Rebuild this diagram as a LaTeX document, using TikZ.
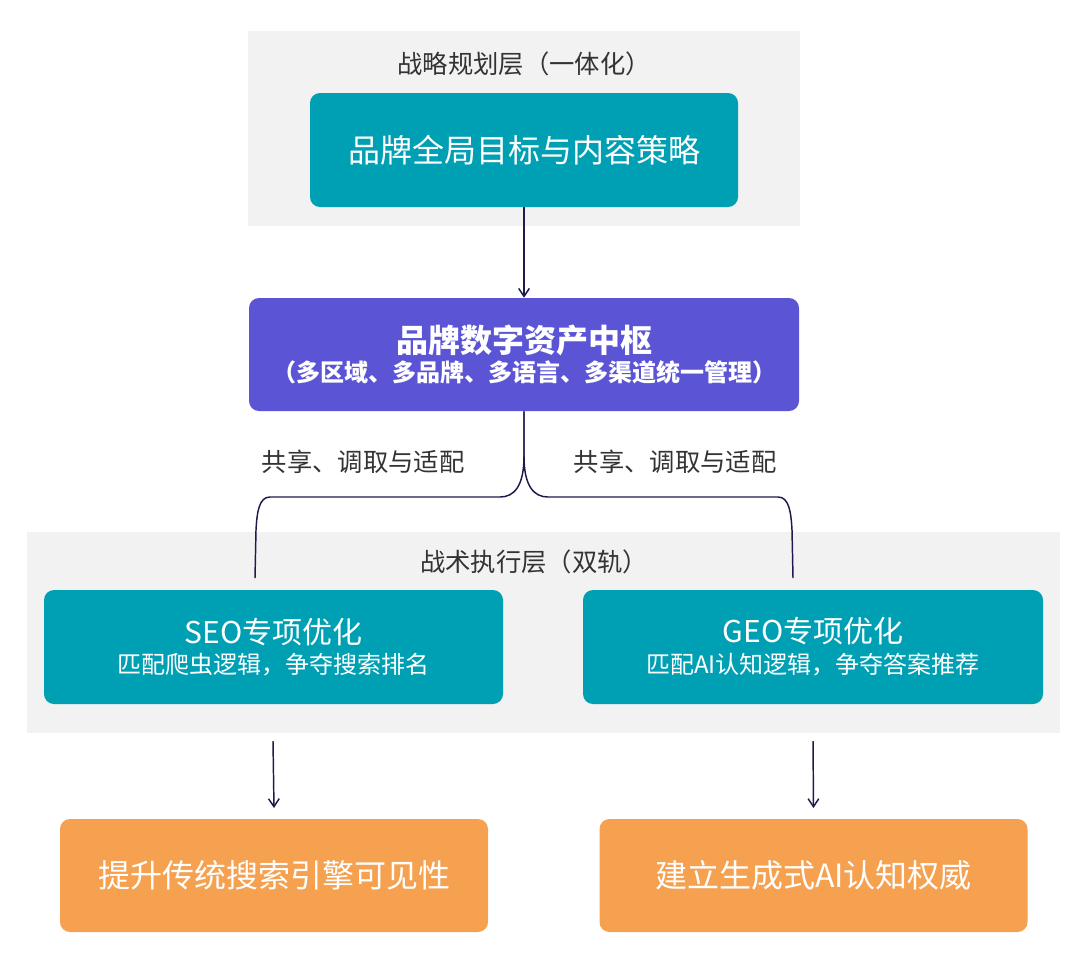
\documentclass[tikz,border=0pt]{standalone}
\usepackage{fontspec}
\setmainfont{Noto Sans CJK SC}
\usetikzlibrary{arrows.meta,positioning,calc}

\definecolor{tealbox}{HTML}{00A0B4}
\definecolor{hubviolet}{HTML}{5B55D6}
\definecolor{goalorange}{HTML}{F5A150}
\definecolor{panelgray}{HTML}{F2F2F2}
\definecolor{linknavy}{HTML}{1E1B4B}
\definecolor{labelgray}{HTML}{333333}

\begin{document}
\begin{tikzpicture}[x=0.75pt, y=-0.75pt,
    panel/.style={fill=panelgray, draw=none},
    layertext/.style={text=labelgray, font=\fontsize{19}{23}\selectfont},
    tealnode/.style={rounded corners=7.5pt, fill=tealbox, text=white, align=center,
        minimum height=85.5pt, inner sep=0pt},
    hubnode/.style={rounded corners=7.5pt, fill=hubviolet, text=white, align=center,
        minimum width=412.5pt, minimum height=84.75pt, inner sep=0pt},
    goalnode/.style={rounded corners=7.5pt, fill=goalorange, text=white,
        minimum width=321pt, minimum height=84.75pt, inner sep=0pt,
        font=\fontsize{24}{28}\selectfont},
    link/.style={draw=linknavy, line width=1.1pt},
    arrowlink/.style={link, -{Straight Barb[length=6pt, width=8pt]}}]
    \useasboundingbox (0,0) rectangle (1080,965);
    % layer panels
    \fill[panel] (248,31) rectangle (800,226);
    \fill[panel] (27,532) rectangle (1060,733);
    \node[layertext] (strategylabel) at (524,64) {战略规划层（一体化）};
    \node[layertext] (tacticlabel) at (534,562) {战术执行层（双轨）};
    % nodes
    \node[tealnode, minimum width=321pt, font=\fontsize{24}{28}\selectfont]
        (goal) at (524,150) {品牌全局目标与内容策略};
    \node[hubnode] (hub) at (524,354.5)
        {{\fontsize{24}{28}\selectfont\bfseries 品牌数字资产中枢}\\[2pt]
         {\fontsize{18}{22}\selectfont\bfseries （多区域、多品牌、多语言、多渠道统一管理）}};
    \node[tealnode, minimum width=344.25pt] (seo) at (273.5,647)
        {{\fontsize{22.5}{26}\selectfont SEO专项优化}\\[5pt]
         {\fontsize{18}{22}\selectfont 匹配爬虫逻辑，争夺搜索排名}};
    \node[tealnode, minimum width=345pt] (geo) at (813,647)
        {{\fontsize{22.5}{26}\selectfont GEO专项优化}\\[5pt]
         {\fontsize{18}{22}\selectfont 匹配AI认知逻辑，争夺答案推荐}};
    \node[goalnode] (seoresult) at (274,875.5) {提升传统搜索引擎可见性};
    \node[goalnode] (georesult) at (813.5,875.5) {建立生成式AI认知权威};
    % free ends
    \coordinate (seoin) at (255,578);
    \coordinate (geoin) at (793,578);
    \coordinate (seoout) at (273,741);
    \coordinate (geoout) at (813,741);
    % connectors
    \draw[arrowlink] (goal.south) -- (hub.north);
    \draw[link] (hub.south) -- ++(0,45) .. controls ++(0,30) and (514,497) .. (500,497)
        -- (270,497) .. controls (259,497) and (257,512) .. (256,530) -- (seoin);
    \draw[link] (hub.south) -- ++(0,45) .. controls ++(0,30) and (534,497) .. (548,497)
        -- (778,497) .. controls (789,497) and (791,512) .. (792,530) -- (geoin);
    \node[layertext] (sharel) at (363,462) {共享、调取与适配};
    \node[layertext] (sharer) at (675,462) {共享、调取与适配};
    \draw[arrowlink] (seoout) -- (seoresult.north |- 0,808);
    \draw[arrowlink] (geoout) -- (georesult.north |- 0,808);
\end{tikzpicture}
\end{document}
